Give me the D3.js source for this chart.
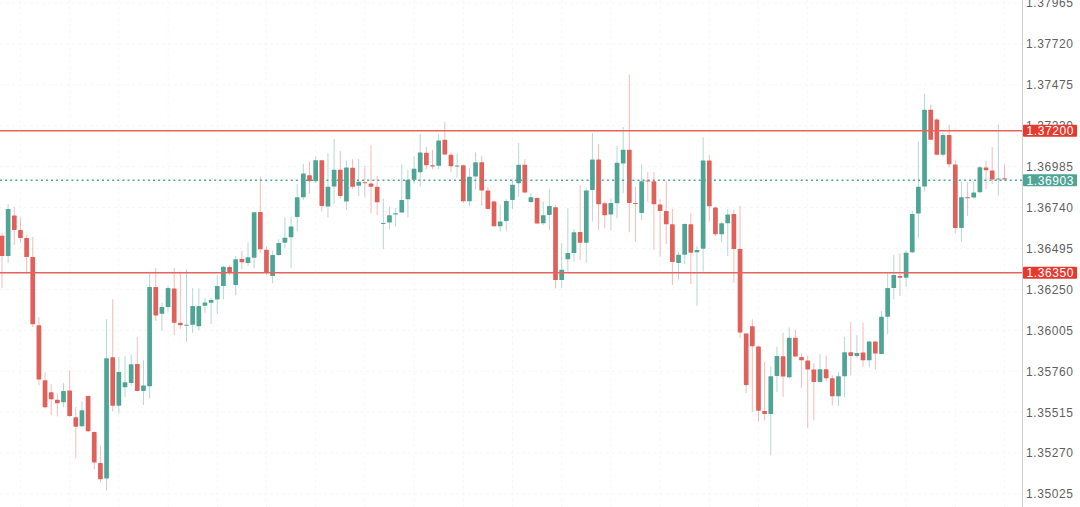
<!doctype html>
<html lang="en">
<head>
<meta charset="utf-8">
<title>Candles</title>
<style>
html, body { margin: 0; padding: 0; background: #fff; overflow: hidden; }
svg { display: block; }
text { font-family: "Liberation Sans", Arial, sans-serif; font-size: 12px; letter-spacing: 0.6px; }
</style>
<script src="https://cdnjs.cloudflare.com/ajax/libs/d3/7.8.5/d3.min.js"></script>
</head>
<body>
<div id="chart"></div>
<script>
var opens = [
  1.36572,1.36450,1.36692,1.36606,1.36558,1.36444,1.36036,1.35706,1.35634,1.35590,
  1.35574,1.35644,1.35484,1.35430,1.35612,1.35396,1.35210,1.35118,1.35844,1.35554,
  1.35664,1.35690,1.35804,1.35642,1.35670,1.36264,1.36104,1.36144,1.36256,1.36050,
  1.36034,1.36038,1.36030,1.36152,1.36170,1.36190,1.36270,1.36384,1.36276,1.36432,
  1.36408,1.36440,1.36714,1.36488,1.36330,1.36456,1.36530,1.36562,1.36684,1.36802,
  1.36934,1.36898,1.37024,1.36746,1.36866,1.36966,1.36776,1.36978,1.36870,1.36892,
  1.36884,1.36864,1.36644,1.36650,1.36698,1.36710,1.36790,1.36906,1.36952,1.37068,
  1.36994,1.36990,1.37146,1.37056,1.36986,1.36994,1.36778,1.36926,1.37012,1.36842,
  1.36776,1.36628,1.36660,1.36786,1.36886,1.36996,1.36774,1.36798,1.36646,1.36696,
  1.36742,1.36306,1.36430,1.36468,1.36594,1.36530,1.36846,1.37028,1.36766,1.36698,
  1.36766,1.37004,1.37086,1.36768,1.36708,1.36902,1.36898,1.36758,1.36720,1.36640,
  1.36408,1.36458,1.36640,1.36472,1.36494,1.37022,1.36740,1.36580,1.36646,1.36702,
  1.36492,1.35986,1.36030,1.35908,1.35522,1.35504,1.35732,1.35850,1.35724,1.35960,
  1.35846,1.35824,1.35770,1.35696,1.35772,1.35718,1.35610,1.35730,1.35874,1.35852,
  1.35872,1.35826,1.35938,1.35864,1.36086,1.36258,1.36330,1.36320,1.36472,1.36704,
  1.36866,1.37326,1.37268,1.37056,1.37174,1.36998,1.36618,1.36802,1.36800,1.36832,
  1.36980,1.36962,1.36908,1.36916
];
var closes = [
  1.36450,1.36732,1.36606,1.36558,1.36444,1.36042,1.35710,1.35544,1.35592,1.35568,
  1.35642,1.35492,1.35428,1.35526,1.35400,1.35214,1.35114,1.35838,1.35554,1.35756,
  1.35694,1.35802,1.35642,1.35674,1.36264,1.36094,1.36144,1.36258,1.36050,1.36036,
  1.36038,1.36150,1.36150,1.36172,1.36186,1.36270,1.36386,1.36354,1.36430,1.36412,
  1.36442,1.36712,1.36490,1.36352,1.36456,1.36528,1.36560,1.36626,1.36802,1.36944,
  1.36898,1.37024,1.36750,1.36864,1.36966,1.36810,1.36980,1.36864,1.36894,1.36886,
  1.36864,1.36772,1.36648,1.36694,1.36706,1.36786,1.36906,1.36972,1.37070,1.36994,
  1.36986,1.37142,1.37058,1.36988,1.36992,1.36778,1.36924,1.37012,1.36842,1.36732,
  1.36628,1.36656,1.36780,1.36876,1.36996,1.36830,1.36802,1.36644,1.36694,1.36750,
  1.36306,1.36368,1.36468,1.36592,1.36530,1.36842,1.37028,1.36760,1.36694,1.36768,
  1.37008,1.37086,1.36768,1.36764,1.36898,1.36896,1.36760,1.36720,1.36640,1.36414,
  1.36458,1.36642,1.36470,1.36486,1.37022,1.36748,1.36580,1.36646,1.36698,1.36492,
  1.35992,1.35678,1.35910,1.35524,1.35504,1.35730,1.35852,1.35728,1.35960,1.35848,
  1.35826,1.35770,1.35696,1.35772,1.35718,1.35610,1.35730,1.35874,1.35852,1.35870,
  1.35826,1.35938,1.35866,1.36086,1.36258,1.36336,1.36320,1.36470,1.36702,1.36864,
  1.37326,1.37146,1.37056,1.37174,1.37000,1.36618,1.36802,1.36799,1.36830,1.36982,
  1.36964,1.36908,1.36914,1.36908
];
var highs = [
  1.36588,1.36762,1.36744,1.36680,1.36576,1.36564,1.36084,1.35754,1.35682,1.35626,
  1.35688,1.35766,1.35546,1.35580,1.35616,1.35400,1.35316,1.36072,1.36190,1.35846,
  1.35850,1.35862,1.35966,1.35826,1.36356,1.36378,1.36170,1.36272,1.36378,1.36356,
  1.36370,1.36258,1.36256,1.36198,1.36200,1.36336,1.36390,1.36394,1.36450,1.36480,
  1.36530,1.36714,1.36926,1.36506,1.36482,1.36550,1.36682,1.36686,1.36880,1.37002,
  1.37016,1.37046,1.37026,1.37066,1.37150,1.37080,1.37022,1.37030,1.37032,1.36990,
  1.37116,1.36930,1.36794,1.36746,1.36736,1.37000,1.36966,1.37046,1.37182,1.37102,
  1.37086,1.37182,1.37254,1.37070,1.37062,1.36996,1.36976,1.37070,1.37050,1.36862,
  1.36780,1.36756,1.36790,1.36910,1.37126,1.37030,1.36826,1.36802,1.36776,1.36850,
  1.36754,1.36526,1.36736,1.36612,1.36872,1.36856,1.37186,1.37122,1.36776,1.36798,
  1.37110,1.37222,1.37536,1.36866,1.37000,1.36952,1.36952,1.36790,1.36900,1.36732,
  1.36474,1.36646,1.36706,1.36510,1.37162,1.37056,1.36746,1.36656,1.36730,1.36726,
  1.36750,1.35988,1.36070,1.35914,1.35816,1.35790,1.35906,1.35990,1.36022,1.36010,
  1.35866,1.35856,1.35806,1.35862,1.35854,1.35736,1.35756,1.35966,1.36054,1.35976,
  1.36052,1.35942,1.35940,1.36120,1.36346,1.36456,1.36466,1.36486,1.36722,1.37136,
  1.37422,1.37356,1.37276,1.37190,1.37236,1.37026,1.36896,1.36892,1.36896,1.36990,
  1.37020,1.37102,1.37236,1.36996
];
var lows = [
  1.36258,1.36408,1.36516,1.36530,1.36342,1.36026,1.35676,1.35538,1.35498,1.35490,
  1.35544,1.35486,1.35238,1.35426,1.35396,1.35172,1.35094,1.35046,1.35520,1.35506,
  1.35604,1.35676,1.35640,1.35558,1.35598,1.36062,1.36002,1.36114,1.35976,1.36012,
  1.35936,1.35990,1.36006,1.36110,1.36042,1.36102,1.36190,1.36336,1.36216,1.36372,
  1.36390,1.36376,1.36466,1.36336,1.36286,1.36450,1.36496,1.36376,1.36600,1.36786,
  1.36822,1.36886,1.36716,1.36682,1.36762,1.36792,1.36726,1.36850,1.36810,1.36802,
  1.36706,1.36696,1.36490,1.36610,1.36626,1.36708,1.36682,1.36882,1.36866,1.36970,
  1.36970,1.36970,1.37054,1.36952,1.36918,1.36766,1.36750,1.36850,1.36750,1.36730,
  1.36626,1.36596,1.36602,1.36730,1.36802,1.36826,1.36766,1.36640,1.36636,1.36606,
  1.36256,1.36258,1.36356,1.36416,1.36426,1.36410,1.36656,1.36606,1.36616,1.36606,
  1.36676,1.36826,1.36592,1.36536,1.36666,1.36776,1.36486,1.36446,1.36522,1.36276,
  1.36310,1.36402,1.36282,1.36150,1.36356,1.36656,1.36570,1.36532,1.36450,1.36290,
  1.35958,1.35630,1.35516,1.35460,1.35466,1.35256,1.35636,1.35606,1.35716,1.35846,
  1.35660,1.35422,1.35466,1.35690,1.35702,1.35554,1.35552,1.35606,1.35736,1.35840,
  1.35786,1.35782,1.35770,1.35862,1.35982,1.36190,1.36210,1.36266,1.36466,1.36556,
  1.36836,1.37144,1.37054,1.37046,1.36982,1.36586,1.36536,1.36690,1.36796,1.36826,
  1.36850,1.36880,1.36812,1.36902
];
var tickPrices = [1.37965,1.37720,1.37475,1.37230,1.36985,1.36740,1.36495,1.36250,1.36005,1.35760,1.35515,1.35270,1.35025];
var levels = [1.37200, 1.36350];
var lastPrice = 1.36903;

var WIDTH = 1080, HEIGHT = 507;
var AXIS_X = 1022;
var UP = '#4fa595', DOWN = '#e0605a', LEVEL = '#e8625c';
var BODY_W = 4.7;

var x = d3.scaleLinear().domain([0, opens.length - 1]).range([2, 1004.5]);
var y = d3.scaleLinear().domain([1.37965, 1.35025]).range([3, 494]);

var svg = d3.select('#chart').append('svg')
  .attr('width', WIDTH)
  .attr('height', HEIGHT);

// faint grid
var gridX = d3.range(3, opens.length + 6, 8);
svg.append('g').selectAll('line').data(gridX).enter().append('line')
  .attr('x1', function (d) { return x(d); })
  .attr('x2', function (d) { return x(d); })
  .attr('y1', 0).attr('y2', HEIGHT)
  .attr('stroke', '#f8f8f8').attr('stroke-dasharray', '3,3');
svg.append('g').selectAll('line').data(tickPrices).enter().append('line')
  .attr('x1', 0).attr('x2', AXIS_X)
  .attr('y1', function (d) { return y(d); })
  .attr('y2', function (d) { return y(d); })
  .attr('stroke', '#f7f7f7').attr('stroke-dasharray', '3,3');

// candles
var candles = svg.append('g').selectAll('g').data(d3.range(opens.length)).enter().append('g');
function color(i) { return closes[i] >= opens[i] ? UP : DOWN; }
candles.append('line')
  .attr('x1', function (i) { return x(i); })
  .attr('x2', function (i) { return x(i); })
  .attr('y1', function (i) { return y(highs[i]); })
  .attr('y2', function (i) { return y(lows[i]); })
  .attr('stroke', color)
  .attr('stroke-opacity', 0.42);
candles.append('rect')
  .attr('x', function (i) { return x(i) - BODY_W / 2; })
  .attr('width', BODY_W)
  .attr('y', function (i) { return y(Math.max(opens[i], closes[i])); })
  .attr('height', function (i) { return Math.max(1, Math.abs(y(opens[i]) - y(closes[i]))); })
  .attr('rx', 0.6)
  .attr('fill', color);

// last price, dotted
svg.append('line')
  .attr('x1', 0).attr('x2', AXIS_X)
  .attr('y1', y(lastPrice)).attr('y2', y(lastPrice))
  .attr('stroke', UP).attr('stroke-width', 1.5).attr('stroke-dasharray', '2,3.1');

// horizontal levels
svg.append('g').selectAll('line').data(levels).enter().append('line')
  .attr('x1', 0).attr('x2', AXIS_X + 2)
  .attr('y1', function (d) { return y(d); })
  .attr('y2', function (d) { return y(d); })
  .attr('stroke', LEVEL).attr('stroke-width', 1.4);

// price axis
var axis = svg.append('g')
  .attr('transform', 'translate(' + AXIS_X + ',0)')
  .call(d3.axisRight(y).tickValues(tickPrices).tickFormat(d3.format('.5f')).tickSize(0).tickPadding(4));
axis.select('.domain').attr('stroke', '#cfcfcf').attr('d', 'M0.5,0V' + HEIGHT);
axis.selectAll('text').attr('fill', '#5f5f5f').style('font-size', '12px').style('font-family', '"Liberation Sans", Arial, sans-serif');

// price tags on the axis
var tags = levels.map(function (d) { return { v: d, c: '#e5392e' }; }).concat([{ v: lastPrice, c: UP }]);
var tag = svg.append('g').selectAll('g').data(tags).enter().append('g')
  .attr('transform', function (d) { return 'translate(' + (AXIS_X + 1) + ',' + y(d.v) + ')'; });
tag.append('rect')
  .attr('x', 0).attr('y', -6).attr('width', 54).attr('height', 12).attr('rx', 1)
  .attr('fill', function (d) { return d.c; });
tag.append('text')
  .attr('x', 3.5).attr('dy', '0.36em')
  .attr('fill', '#fff')
  .text(function (d) { return d3.format('.5f')(d.v); });
</script>
</body>
</html>
